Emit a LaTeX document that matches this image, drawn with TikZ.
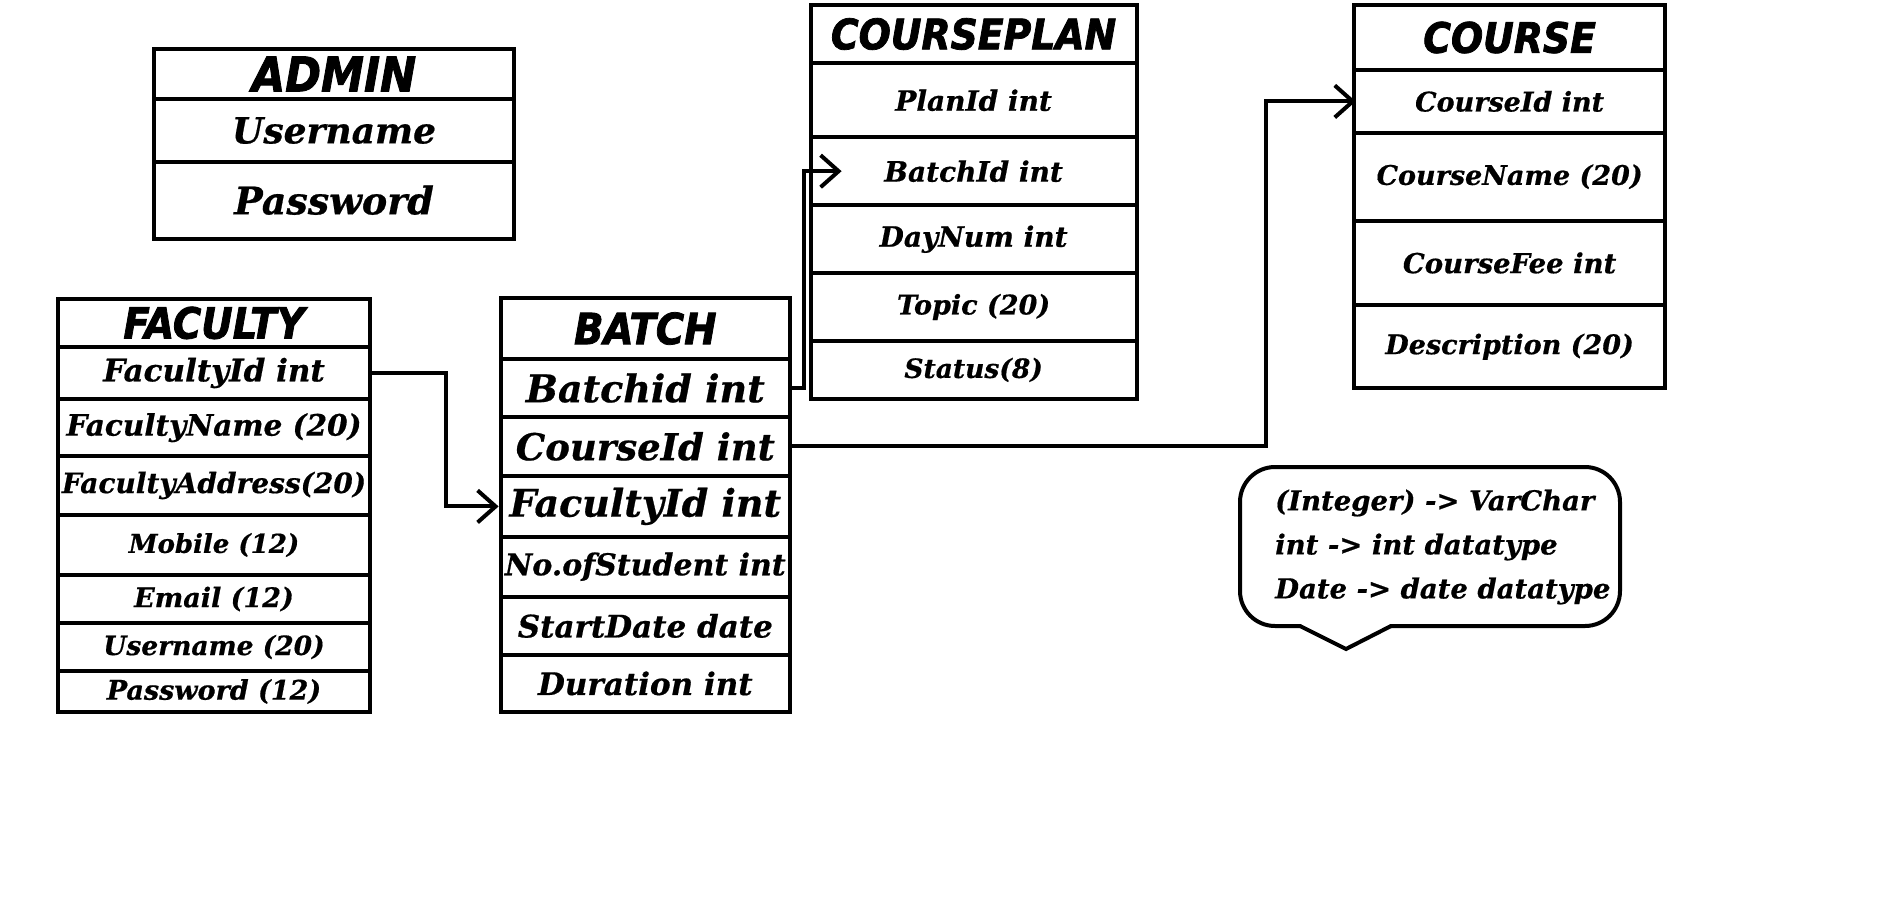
\documentclass[tikz,border=0pt]{standalone}
\usepackage{fontspec}
\usepackage{tikz}
\usetikzlibrary{arrows.meta}
\newfontfamily\fieldfont{DejaVu Serif Bold Italic}[FakeBold=0.6]
\newfontfamily\headfont{DejaVu Sans Condensed Bold Oblique}[FakeBold=1.8]

\begin{document}
\begin{tikzpicture}[x=1pt,y=1pt,yscale=-1,xscale=1,
    tabrow/.style args={#1x#2}{draw, line width=4, inner sep=0pt, minimum width=#1, minimum height=#2,
        execute at begin node={\hbox to 0pt\bgroup\hss}, execute at end node={\hss\egroup}},
    headtext/.style={font=\headfont\fontsize{#1}{#1}\selectfont},
    fieldtext/.style={font=\fieldfont\fontsize{#1}{#1}\selectfont},
    fk/.style={line width=4, line join=miter, -{Straight Barb[length=18pt,width=32pt]}}]
        \useasboundingbox (0,0) rectangle (1879,900);

        \node[tabrow=360x50.6, headtext=48] (admttl) at (334,74) {ADMIN};
        \node[tabrow=360x62.4, fieldtext=36] (admuser) at (334,130.5) {Username};
        \node[tabrow=360x77, fieldtext=38] (admpass) at (334,200.2) {Password};

        \node[tabrow=312x47.7, headtext=43] (facttl) at (214,322.9) {FACULTY};
        \node[tabrow=312x52.6, fieldtext=31] (facid) at (214,373) {FacultyId int};
        \node[tabrow=312x56.7, fieldtext=29.5] (facname) at (214,427.7) {FacultyName (20)};
        \node[tabrow=312x59, fieldtext=28] (facaddr) at (214,485.5) {FacultyAddress(20)};
        \node[tabrow=312x60, fieldtext=26] (facmob) at (214,545) {Mobile (12)};
        \node[tabrow=312x48.3, fieldtext=27] (facmail) at (214,599) {Email (12)};
        \node[tabrow=312x47.7, fieldtext=26.5] (facuser) at (214,647) {Username (20)};
        \node[tabrow=312x41, fieldtext=27] (facpass) at (214,691.5) {Password (12)};

        \node[tabrow=289.4x61.6, headtext=43] (batttl) at (645.3,328.5) {BATCH};
        \node[tabrow=289.4x57.4, fieldtext=38] (batbid) at (645.3,388) {Batchid int};
        \node[tabrow=289.4x59.3, fieldtext=37] (batcid) at (645.3,446.4) {CourseId int};
        \node[tabrow=289.4x60.7, fieldtext=38] (batfid) at (645.3,506.4) {FacultyId int};
        \node[tabrow=289.4x60, fieldtext=30] (batnum) at (645.3,566.7) {No.ofStudent int};
        \node[tabrow=289.4x58.3, fieldtext=31] (batdate) at (645.3,625.9) {StartDate date};
        \node[tabrow=289.4x56.7, fieldtext=31] (batdur) at (645.3,683.4) {Duration int};

        \node[tabrow=326x58.6, headtext=42] (cpttl) at (973.6,34) {COURSEPLAN};
        \node[tabrow=326x74, fieldtext=28] (cppid) at (973.6,100.3) {PlanId int};
        \node[tabrow=326x67.7, fieldtext=28] (cpbid) at (973.6,171.2) {BatchId int};
        \node[tabrow=326x68.3, fieldtext=28] (cpday) at (973.6,239.2) {DayNum int};
        \node[tabrow=326x67.4, fieldtext=27] (cptopic) at (973.6,307) {Topic (20)};
        \node[tabrow=326x58.3, fieldtext=26.5] (cpstat) at (973.6,369.9) {Status(8)};

        \node[tabrow=311.7x65, headtext=42] (crsttl) at (1509.6,37.5) {COURSE};
        \node[tabrow=311.7x62.7, fieldtext=27] (crsid) at (1509.6,101.4) {CourseId int};
        \node[tabrow=311.7x88, fieldtext=27] (crsname) at (1509.6,176.7) {CourseName (20)};
        \node[tabrow=311.7x84.3, fieldtext=27.5] (crsfee) at (1509.6,262.9) {CourseFee int};
        \node[tabrow=311.7x83.3, fieldtext=27] (crsdesc) at (1509.6,346.7) {Description (20)};

        \draw[fk] (facid.east) -- ++(74,0) |- (batfid.west);
        \draw[fk] (batbid.east) -- ++(12,0) |- ([xshift=33]cpbid.west);
        \draw[fk] (batcid.east) -- ++(474,0) |- ([xshift=4]crsid.west);

        \draw[line width=4, line cap=round, rounded corners=35] (1391,626) -- (1620,626) -- (1620,467) -- (1240,467) -- (1240,626) -- (1300,626);
        \draw[line width=4, line cap=round] (1300,626) -- (1346,649) -- (1391,626);
        \node[font=\fieldfont\fontsize{27.5}{44}\selectfont, align=left, anchor=west, inner sep=0pt] (legend) at (1275,547) {(Integer) -> VarChar\\int -> int datatype\\Date -> date datatype};
\end{tikzpicture}
\end{document}
